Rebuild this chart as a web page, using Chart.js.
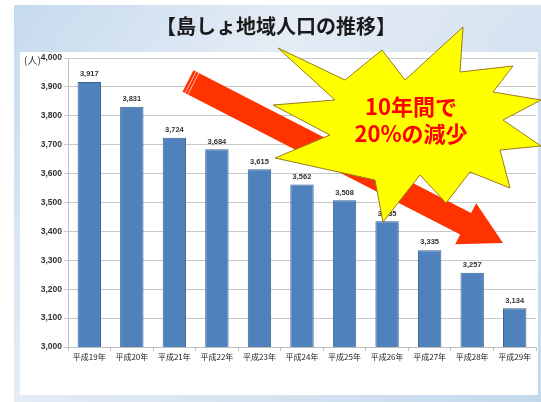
<!DOCTYPE html>
<html>
<head>
<meta charset="utf-8">
<script src="https://cdn.jsdelivr.net/npm/chart.js@4.4.1/dist/chart.umd.min.js"></script>
<style>
html,body{margin:0;padding:0;background:#fff;}
#wrap{position:relative;width:541px;height:402px;}
</style>
</head>
<body>
<div id="wrap"><canvas id="c" width="541" height="402"></canvas></div>
<script>
const categories = ["平成19年","平成20年","平成21年","平成22年","平成23年","平成24年","平成25年","平成26年","平成27年","平成28年","平成29年"];
const population = [3917,3831,3724,3684,3615,3562,3508,3435,3335,3257,3134];
const yTicks = [3000,3100,3200,3300,3400,3500,3600,3700,3800,3900,4000];
const titleText = "【島しょ地域人口の推移】";
const unitText = "(人)";
const calloutLines = ["10年間で","20%の減少"];

const JP = '"Noto Sans CJK JP","Noto Sans",sans-serif';
const fmt = v => v.toLocaleString('en-US');

const backgroundPlugin = {
  id:'bg',
  beforeDraw(chart){
    const ctx = chart.ctx, W = chart.width, H = chart.height;
    ctx.save();
    ctx.fillStyle = '#ffffff';
    ctx.fillRect(0,0,W,H);
    const g = ctx.createLinearGradient(14,5,W,H);
    g.addColorStop(0,'#c6daee');
    g.addColorStop(0.35,'#e4ecf5');
    g.addColorStop(0.7,'#d4e2f0');
    g.addColorStop(1,'#c4d8ec');
    ctx.fillStyle = g;
    ctx.fillRect(14,5,W-14,H-5);
    ctx.fillStyle = '#ffffff';
    ctx.fillRect(20,52,518,343);
    ctx.fillStyle = '#1a1a1a';
    ctx.font = 'bold 20px ' + JP;
    ctx.textAlign = 'center';
    ctx.textBaseline = 'middle';
    ctx.fillText(titleText, 276, 26);
    ctx.font = '10px ' + JP;
    ctx.fillStyle = '#333';
    ctx.textAlign = 'left';
    ctx.fillText(unitText, 24, 60);
    ctx.restore();
  }
};

const labelPlugin = {
  id:'labels',
  afterDatasetsDraw(chart){
    const ctx = chart.ctx;
    const meta = chart.getDatasetMeta(0);
    ctx.save();
    ctx.font = 'bold 7.5px "Liberation Sans",Arial,sans-serif';
    ctx.fillStyle = '#333';
    ctx.textAlign = 'center';
    ctx.textBaseline = 'bottom';
    meta.data.forEach((bar,i)=>{
      ctx.fillText(fmt(population[i]), bar.x, bar.y - 4);
    });
    ctx.restore();
  }
};

const decoPlugin = {
  id:'deco',
  afterDraw(chart){
    const ctx = chart.ctx;
    ctx.save();
    const tail = [188,81], tip = [503,243];
    const dx = tip[0]-tail[0], dy = tip[1]-tail[1];
    const len = Math.hypot(dx,dy);
    const ux = dx/len, uy = dy/len, px = -uy, py = ux;
    const sw = 12, hw = 23, hl = 42;
    const bx = tip[0]-ux*hl, by = tip[1]-uy*hl;
    ctx.beginPath();
    ctx.moveTo(tail[0]+px*sw, tail[1]+py*sw);
    ctx.lineTo(bx+px*sw, by+py*sw);
    ctx.lineTo(bx+px*hw, by+py*hw);
    ctx.lineTo(tip[0], tip[1]);
    ctx.lineTo(bx-px*hw, by-py*hw);
    ctx.lineTo(bx-px*sw, by-py*sw);
    ctx.lineTo(tail[0]-px*sw, tail[1]-py*sw);
    ctx.closePath();
    ctx.fillStyle = '#ff3300';
    ctx.fill();
    ctx.strokeStyle = 'rgba(255,200,200,0.9)';
    ctx.lineWidth = 1;
    for (const d of [3,6]) {
      ctx.beginPath();
      ctx.moveTo(tail[0]+ux*d+px*sw, tail[1]+uy*d+py*sw);
      ctx.lineTo(tail[0]+ux*d-px*sw, tail[1]+uy*d-py*sw);
      ctx.stroke();
    }
    const pts = [[278,48],[345,80],[382,50],[405,80],[463,27],[460,72],[513,66],[493,92],[541,100],[503,120],[541,146],[500,150],[510,188],[470,172],[446,203],[420,175],[383,222],[375,180],[275,158],[330,135],[273,105],[335,100]];
    ctx.beginPath();
    pts.forEach((p,i)=> i ? ctx.lineTo(p[0],p[1]) : ctx.moveTo(p[0],p[1]));
    ctx.closePath();
    ctx.fillStyle = '#ffff00';
    ctx.fill();
    ctx.strokeStyle = '#9c7a1c';
    ctx.lineWidth = 1;
    ctx.stroke();
    ctx.fillStyle = '#ff0000';
    ctx.font = 'bold 22px ' + JP;
    ctx.textAlign = 'center';
    ctx.textBaseline = 'middle';
    ctx.fillText(calloutLines[0], 411, 107);
    ctx.fillText(calloutLines[1], 411, 134);
    ctx.restore();
  }
};

new Chart(document.getElementById('c'), {
  type:'bar',
  data:{
    labels: categories,
    datasets:[{
      data: population,
      backgroundColor:'#4f81bd',
      borderColor:'#3a6291',
      borderWidth:1,
      barPercentage:0.55,
      categoryPercentage:1
    }]
  },
  options:{
    responsive:false,
    animation:false,
    devicePixelRatio:1,
    layout:{padding:{left:0,right:5,top:58,bottom:0}},
    plugins:{legend:{display:false},title:{display:false},tooltip:{enabled:false}},
    scales:{
      x:{
        offset:true,
        grid:{display:true,drawOnChartArea:false,drawTicks:true,tickLength:4,color:'#bfbfbf',offset:true},
        border:{display:true,color:'#bfbfbf'},
        ticks:{font:{size:8,family:JP},color:'#222',padding:1,maxRotation:0,autoSkip:false},
        afterFit(s){ s.height = 55; }
      },
      y:{
        min:3000,max:4000,
        afterBuildTicks(s){ s.ticks = yTicks.map(v=>({value:v})); },
        grid:{color:'#c8c8c8',tickLength:4,drawTicks:true},
        border:{display:true,color:'#bfbfbf'},
        ticks:{font:{size:8.5,weight:'bold',family:'"Liberation Sans",Arial,sans-serif'},color:'#333',padding:2,callback:v=>fmt(v)},
        afterFit(s){ s.width = 68; }
      }
    }
  },
  plugins:[backgroundPlugin,labelPlugin,decoPlugin]
});
</script>
</body>
</html>
